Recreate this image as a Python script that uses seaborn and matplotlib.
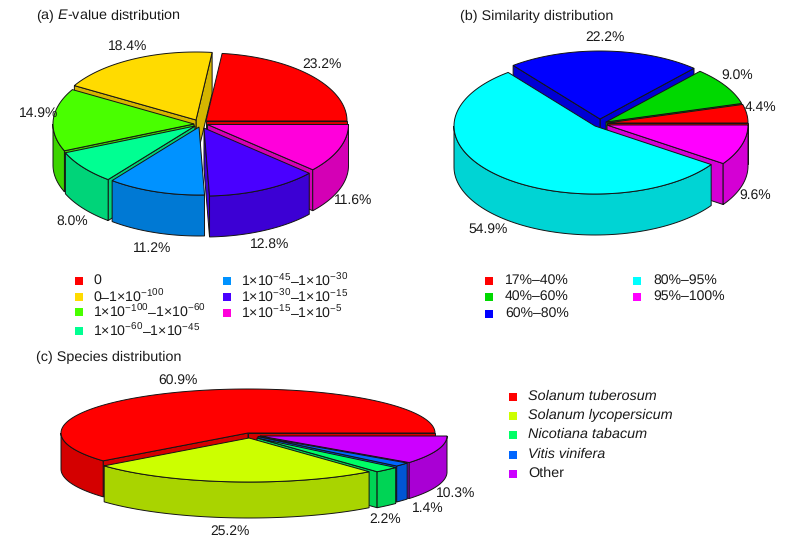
import numpy as np
import seaborn as sns
import matplotlib
matplotlib.use('Agg')
import matplotlib.pyplot as plt

evalue_pct = [23.2, 18.4, 14.9, 8.0, 11.2, 12.8, 11.6]
evalue_labels = ['0', '0–1×10$^{−100}$', '1×10$^{−100}$–1×10$^{−60}$', '1×10$^{−60}$–1×10$^{−45}$',
                 '1×10$^{−45}$–1×10$^{−30}$', '1×10$^{−30}$–1×10$^{−15}$', '1×10$^{−15}$–1×10$^{−5}$']

similarity_pct = [4.4, 9.0, 22.2, 54.9, 9.6]
similarity_labels = ['17%–40%', '40%–60%', '60%–80%', '80%–95%', '95%–100%']

species_pct = [60.9, 25.2, 2.2, 1.4, 10.3]
species_labels = ['Solanum tuberosum', 'Solanum lycopersicum', 'Nicotiana tabacum', 'Vitis vinifera', 'Other']

sns.set_theme(style='white')
plt.rcParams['font.family'] = ['Liberation Sans', 'DejaVu Sans']
plt.rcParams['mathtext.fontset'] = 'custom'
plt.rcParams['mathtext.rm'] = 'Liberation Sans'
plt.rcParams['mathtext.it'] = 'Liberation Sans:italic'
plt.rcParams['mathtext.default'] = 'regular'
plt.rcParams['text.hinting'] = 'none'

FS = 10.0
TITLE_FS = 10.4
KEY_FS = 10.2
EDGE = '#141414'
INK = '#1a1a1a'

fig = plt.figure(figsize=(7.9, 5.46), dpi=100)
ax = fig.add_axes([0, 0, 1, 1])
ax.set_xlim(0, 790)
ax.set_ylim(546, 0)
ax.axis('off')


def darker(c):
    return tuple(v * 0.83 for v in c[:3])


def pie3d(pct, colors, apexes, rx, ry, h):
    # angles run counter-clockwise from 3 o'clock, apex is one per slice (exploded)
    ang = np.concatenate([[0], np.cumsum(pct)]) / sum(pct) * 2 * np.pi
    mids = (ang[:-1] + ang[1:]) / 2
    z = 2
    for i in sorted(range(len(pct)), key=lambda k: -np.sin(mids[k])):
        a0, a1 = ang[i], ang[i + 1]
        ax_, ay_ = apexes[i]
        side = darker(colors[i])
        for t, normal in [(a0, a0 - np.pi / 2), (a1, a1 + np.pi / 2)]:
            if np.sin(normal) < 0:
                px = ax_ + rx * np.cos(t)
                py = ay_ - ry * np.sin(t)
                ax.fill([ax_, px, px, ax_], [ay_, py, py + h, ay_ + h], fc=side, ec=EDGE, lw=0.7, zorder=z)
                z += 1
        # outer wall, only the part facing the viewer
        lo, hi = max(a0, np.pi), min(a1, 2 * np.pi)
        if hi > lo:
            t = np.linspace(lo, hi, 80)
            xs = ax_ + rx * np.cos(t)
            ys = ay_ - ry * np.sin(t)
            ax.fill(np.r_[xs, xs[::-1]], np.r_[ys, ys[::-1] + h], fc=side, ec=EDGE, lw=0.7, zorder=z)
            z += 1
        t = np.linspace(a0, a1, 120)
        ax.fill(np.r_[ax_, ax_ + rx * np.cos(t)], np.r_[ay_, ay_ - ry * np.sin(t)],
                fc=colors[i], ec=EDGE, lw=0.7, zorder=z)
        z += 1


def pct_labels(pct, spots):
    for v, (x, y) in zip(pct, spots):
        ax.text(x, y, f'{v:.1f}%', fontsize=FS, color=INK, ha='center', va='center', zorder=50)


def key(labels, colors, xs, ys, gap=14, styles=None, size=KEY_FS):
    styles = styles or ['normal'] * len(labels)
    for lab, c, x, y, st in zip(labels, colors, xs, ys, styles):
        ax.scatter([x], [y], marker='s', s=26, color=[c], linewidths=0, zorder=50)
        ax.text(x + gap, y - 0.5, lab, fontsize=size, style=st, color=INK, ha='left', va='center', zorder=50)


# (a)
pal_a = sns.hls_palette(7, h=0, l=0.5, s=1)
pie3d(evalue_pct, pal_a, [(206, 121), (196, 120), (194, 124), (195, 126), (199, 127), (204, 128), (207.5, 124.5)],
      141, 68, 41)
pct_labels(evalue_pct, [(322, 64), (128, 46), (39, 113), (72, 221), (152, 248), (270, 244), (353, 200)])
ax.text(36, 16, '(a) $\\mathit{E}$-value distribution', fontsize=TITLE_FS, color=INK, va='center')
key(evalue_labels, pal_a, [79, 79, 79, 79, 227, 227, 227], [281, 297, 312, 331, 281, 297, 313])

# (b)
pal_b = [(1, 0, 0), (0, 0.85, 0), (0, 0, 1), (0, 1, 1), (1, 0, 1)]
pie3d(similarity_pct, pal_b, [(607, 123), (606, 122), (600, 119), (595, 126), (607, 125)], 141, 68, 41)
pct_labels(similarity_pct, [(761, 107), (737, 75), (605, 37), (488, 229), (755, 195)])
ax.text(460, 16, '(b) Similarity distribution', fontsize=TITLE_FS, color=INK, va='center')
key(similarity_labels, pal_b, [489, 489, 489, 637, 637], [281, 297, 314, 281, 297], gap=16, size=10.1)

# (c)
pal_c = sns.hls_palette(5, h=0, l=0.5, s=1)
pie3d(species_pct, pal_c, [(248, 433), (249, 438), (257, 438), (258, 436.5), (260, 436)], 187, 44, 36)
pct_labels(species_pct, [(178, 380), (230, 531), (385, 519), (428, 508), (456, 493)])
ax.text(36, 357, '(c) Species distribution', fontsize=TITLE_FS, color=INK, va='center')
key(species_labels, pal_c, [513, 513, 513, 513, 513], [397, 416, 435, 455, 474], gap=15,
    styles=['italic', 'italic', 'italic', 'italic', 'normal'], size=10.4)

fig.savefig('out.png', dpi=100)
